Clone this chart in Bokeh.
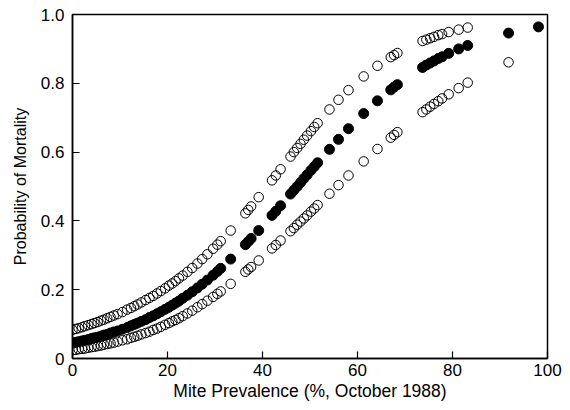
from bokeh.plotting import figure
from bokeh.models import Range1d, FixedTicker
from bokeh.embed import file_html
from bokeh.resources import INLINE

nan = float("nan")

prevalence = [0, 0.7, 1.3, 2.0, 2.6, 3.3, 4.0, 4.6, 5.3, 6.0, 6.6, 7.3, 8.0, 8.7, 9.5, 10.5, 11.5, 12.3, 13.0, 13.7,
              14.5, 15.4, 16.2, 17.0, 17.8, 18.6, 19.5, 20.3, 21.0, 21.7, 22.4, 23.2, 24.2, 25.2, 26.3, 27.3, 28.4,
              29.6, 30.5, 31.2, 33.3, 36.4, 37.0, 37.6, 39.2, 42.0, 42.8, 43.8, 45.9, 46.6, 47.3, 48.0, 48.7, 49.4,
              50.2, 50.9, 51.6, 54.1, 56.0, 58.1, 61.3, 64.2, 67.0, 67.7, 68.4, 73.7, 74.5, 75.3, 76.1, 77.0, 77.8,
              79.2, 81.3, 83.2, 91.8, 98.1]

mortality = [0.045, 0.047, 0.049, 0.051, 0.053, 0.055, 0.058, 0.06, 0.062, 0.065, 0.068, 0.07, 0.074, 0.077, 0.08,
             0.085, 0.09, 0.095, 0.099, 0.103, 0.108, 0.113, 0.119, 0.124, 0.13, 0.136, 0.143, 0.149, 0.155, 0.161,
             0.167, 0.175, 0.184, 0.194, 0.205, 0.216, 0.228, 0.242, 0.253, 0.262, 0.289, 0.331, 0.34, 0.349, 0.372,
             0.416, 0.428, 0.444, 0.478, 0.489, 0.5, 0.511, 0.523, 0.534, 0.547, 0.558, 0.569, 0.608, 0.637, 0.668,
             0.712, 0.749, 0.781, 0.789, 0.796, 0.846, 0.853, 0.859, 0.865, 0.872, 0.877, 0.887, 0.9, 0.91, 0.946,
             0.964]

lower = [0.024, 0.025, 0.027, 0.028, 0.029, 0.031, 0.033, 0.034, 0.036, 0.038, 0.04, 0.042, 0.044, 0.046, 0.049,
         0.053, 0.056, 0.06, 0.063, 0.066, 0.07, 0.074, 0.078, 0.083, 0.087, 0.092, 0.098, 0.103, 0.108, 0.112,
         0.117, 0.123, 0.131, 0.139, 0.149, 0.158, 0.168, 0.179, 0.188, 0.195, 0.217, 0.252, 0.259, 0.266, 0.285,
         0.32, 0.33, 0.343, 0.37, 0.379, 0.389, 0.398, 0.407, 0.416, 0.427, 0.436, 0.446, 0.479, 0.504, 0.532,
         0.573, 0.609, 0.642, 0.65, 0.658, 0.716, 0.724, 0.732, 0.74, 0.748, 0.756, 0.768, 0.786, 0.802, 0.861, nan]

upper = [0.083, 0.086, 0.088, 0.091, 0.094, 0.097, 0.1, 0.103, 0.106, 0.11, 0.113, 0.117, 0.121, 0.125, 0.129,
         0.135, 0.142, 0.147, 0.152, 0.157, 0.163, 0.17, 0.176, 0.182, 0.189, 0.196, 0.204, 0.212, 0.218, 0.225,
         0.233, 0.241, 0.252, 0.263, 0.276, 0.289, 0.303, 0.319, 0.331, 0.341, 0.372, 0.422, 0.432, 0.442, 0.469,
         0.518, 0.532, 0.55, 0.587, 0.6, 0.612, 0.624, 0.636, 0.648, 0.661, 0.673, 0.684, 0.724, 0.752, 0.78,
         0.82, 0.851, 0.876, 0.882, 0.888, 0.923, 0.927, 0.931, 0.935, 0.94, 0.943, 0.949, 0.956, 0.962, nan, nan]

x_ticks = [0, 20, 40, 60, 80, 100]
y_ticks = [0, 0.2, 0.4, 0.6, 0.8, 1.0]
y_tick_labels = {0: "0", 0.2: "0.2", 0.4: "0.4", 0.6: "0.6", 0.8: "0.8", 1.0: "1.0"}

FONT = "Liberation Sans"

p = figure(width=562, height=405, output_backend="svg", toolbar_location=None,
           x_range=Range1d(0, 100), y_range=Range1d(0, 1),
           min_border_left=72, min_border_right=15, min_border_top=14, min_border_bottom=47)
p.grid.visible = False
p.background_fill_color = "white"
p.outline_line_color = "black"
p.outline_line_width = 1.5

p.scatter(prevalence, upper, size=9.5, marker="circle", fill_color=None, line_color="black", line_width=1.0)
p.scatter(prevalence, lower, size=9.5, marker="circle", fill_color=None, line_color="black", line_width=1.0)
p.scatter(prevalence, mortality, size=10, marker="circle", fill_color="black", line_color="black")

for ax in (p.xaxis[0], p.yaxis[0]):
    ax.axis_line_color = "black"
    ax.axis_line_width = 1.5
    ax.major_tick_in = 7
    ax.major_tick_out = 0
    ax.minor_tick_line_color = None
    ax.major_tick_line_color = "black"
    ax.major_tick_line_width = 1.2
    ax.major_label_text_font = FONT
    ax.major_label_text_font_size = "17px"
    ax.major_label_text_color = "black"
    ax.axis_label_text_font = FONT
    ax.axis_label_text_font_style = "normal"
    ax.axis_label_text_color = "black"

p.xaxis.axis_label_text_font_size = "17.5px"
p.yaxis.axis_label_text_font_size = "16px"
p.xaxis.ticker = FixedTicker(ticks=x_ticks)
p.yaxis.ticker = FixedTicker(ticks=y_ticks)
p.yaxis.major_label_overrides = y_tick_labels
p.xaxis.axis_label = "Mite Prevalence (%, October 1988)"
p.yaxis.axis_label = "Probability of Mortality"
p.xaxis.major_label_standoff = 5
p.yaxis.major_label_standoff = 8
p.xaxis.axis_label_standoff = 2
p.yaxis.axis_label_standoff = 9

open("out.html", "w").write(file_html(p, INLINE))
